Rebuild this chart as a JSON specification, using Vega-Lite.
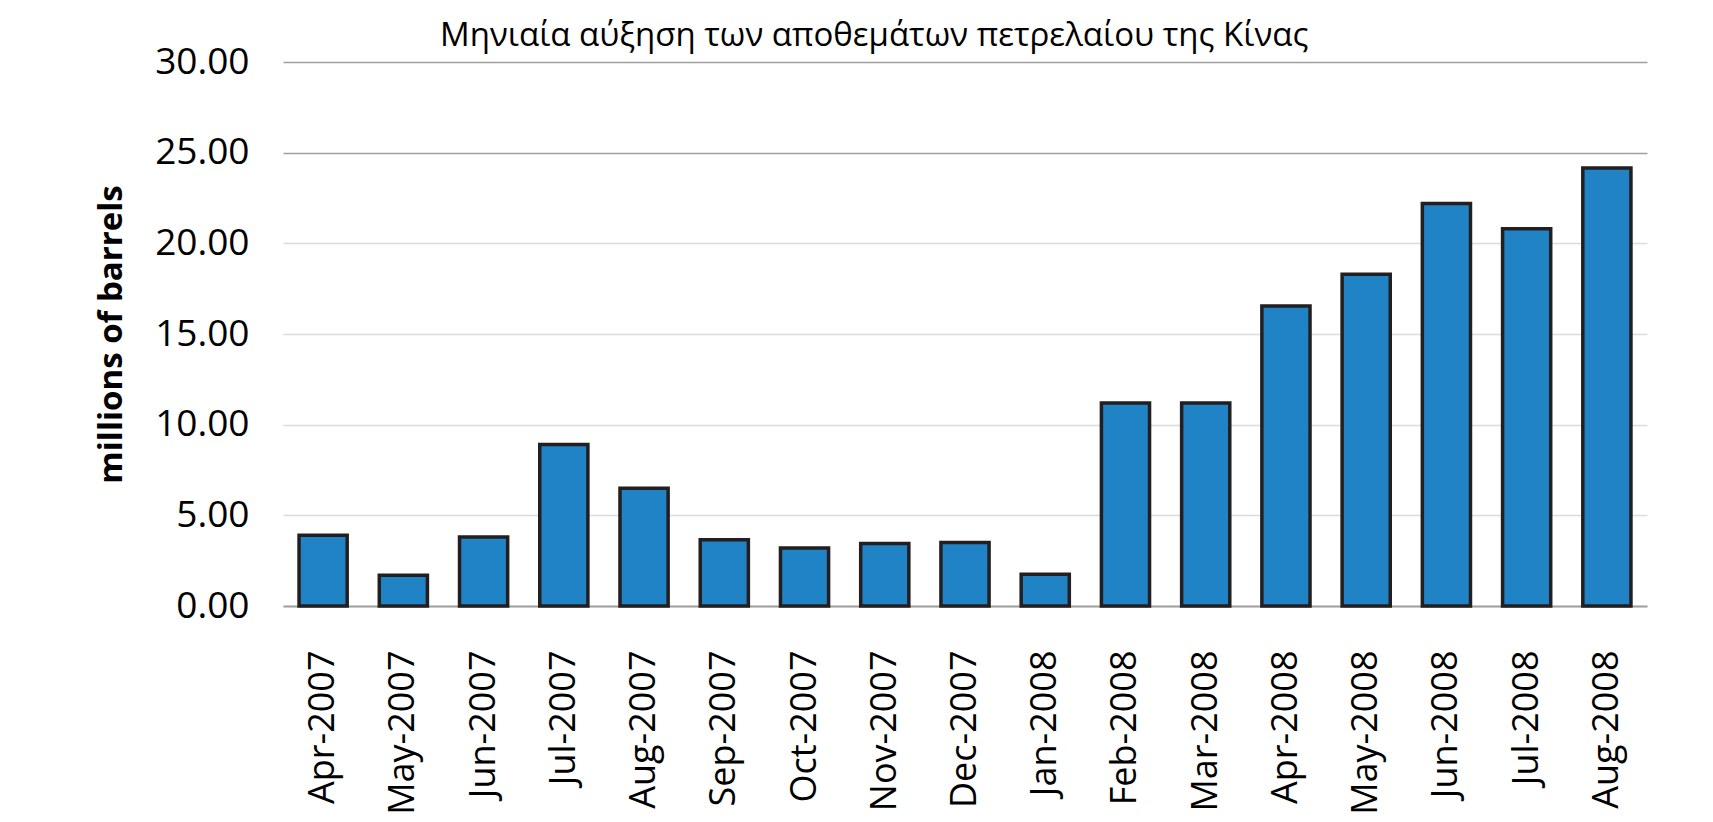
{
  "$schema": "https://vega.github.io/schema/vega-lite/v6.json",
  "autosize": "none",
  "width": 1364,
  "height": 544,
  "padding": {"left": 283, "top": 62, "right": 66, "bottom": 216},
  "background": "white",
  "title": {
    "text": "Μηνιαία αύξηση των αποθεμάτων πετρελαίου της Κίνας",
    "anchor": "start",
    "frame": "group",
    "dx": 157,
    "dy": 51,
    "offset": 15,
    "baseline": "alphabetic",
    "font": "Open Sans",
    "fontSize": 33,
    "fontWeight": "normal",
    "color": "#000000"
  },
  "data": {
    "values": [
      {"month": "Apr-2007", "value": 3.9},
      {"month": "May-2007", "value": 1.7},
      {"month": "Jun-2007", "value": 3.8},
      {"month": "Jul-2007", "value": 8.9},
      {"month": "Aug-2007", "value": 6.5},
      {"month": "Sep-2007", "value": 3.65},
      {"month": "Oct-2007", "value": 3.2},
      {"month": "Nov-2007", "value": 3.45},
      {"month": "Dec-2007", "value": 3.5},
      {"month": "Jan-2008", "value": 1.75},
      {"month": "Feb-2008", "value": 11.2},
      {"month": "Mar-2008", "value": 11.2},
      {"month": "Apr-2008", "value": 16.55},
      {"month": "May-2008", "value": 18.3},
      {"month": "Jun-2008", "value": 22.2},
      {"month": "Jul-2008", "value": 20.8},
      {"month": "Aug-2008", "value": 24.15}
    ]
  },
  "mark": {"type": "bar", "color": "#1f83c6", "stroke": "#231f20", "strokeWidth": 3.5},
  "encoding": {
    "x": {
      "field": "month",
      "type": "nominal",
      "sort": null,
      "scale": {"paddingInner": 0.4, "paddingOuter": 0.2},
      "axis": {
        "title": null,
        "labelAngle": -90,
        "labelFont": "Open Sans",
        "labelFontSize": 36,
        "labelColor": "#000000",
        "labelPadding": 44,
        "ticks": false,
        "domainColor": "#a0a0a0",
        "domainWidth": 2
      }
    },
    "y": {
      "field": "value",
      "type": "quantitative",
      "scale": {"domain": [0, 30], "nice": false},
      "axis": {
        "title": "millions of barrels",
        "titleFont": "Open Sans",
        "titleFontSize": 33,
        "titleFontWeight": "bold",
        "titleColor": "#000000",
        "titlePadding": 26,
        "values": [0, 5, 10, 15, 20, 25, 30],
        "format": ".2f",
        "labelFont": "Open Sans",
        "labelFontSize": 37,
        "labelColor": "#000000",
        "labelPadding": 34,
        "ticks": false,
        "domain": false,
        "gridWidth": 1.5,
        "gridColor": {
          "condition": {"test": "datum.value >= 25", "value": "#a0a0a0"},
          "value": "#dcdcdc"
        }
      }
    }
  },
  "config": {"view": {"stroke": null}}
}
